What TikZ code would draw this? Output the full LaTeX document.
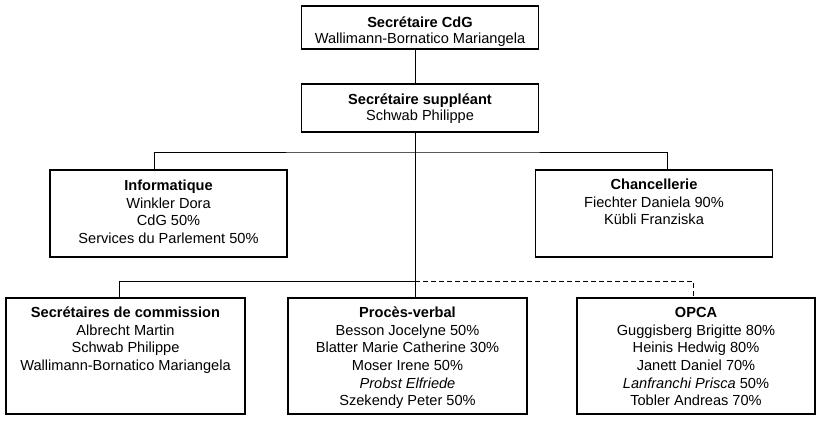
\documentclass[tikz,border=0pt]{standalone}
\usepackage{fontspec}
\setmainfont{Liberation Sans}
\usetikzlibrary{positioning}
\newcommand{\hd}[1]{\rule{0pt}{14pt}\textbf{#1}}

\begin{document}
\begin{tikzpicture}[x=1pt, y=-1pt,
		unit/.style={draw, line width=1.1pt, minimum width=237pt, inner sep=0pt},
		names/.style={anchor=north, align=center, inner sep=0pt, font=\fontsize{14.6}{17.6}\selectfont},
		link/.style={line width=1pt},
		dotlink/.style={line width=1pt, dash pattern=on 5pt off 3pt}]
		%%%%% START %%%%%
		\useasboundingbox (0,0) rectangle (819,421);
		
		\coordinate (bus1) at (415, 152);
		\coordinate (bus2) at (415, 281);
		
		% direction
		\node[unit, minimum height=43pt] (cdg) at (420, 27.5) {};
		\node[names, below=8pt of cdg.north] (cdgT) {\hd{Secrétaire CdG}\\[-1.6pt]Wallimann-Bornatico Mariangela};
		
		\node[unit, minimum height=48pt] (supp) at (420, 108) {};
		\node[names, below=7pt of supp.north] (suppT) {\hd{Secrétaire suppléant}\\[-1.6pt]Schwab Philippe};
		
		% services
		\node[unit, minimum height=87pt] (info) at (168.5, 213.5) {};
		\node[names, below=7pt of info.north] (infoT) {\hd{Informatique}\\Winkler Dora\\CdG 50\%\\Services du Parlement 50\%};
		
		\node[unit, minimum height=87pt] (chanc) at (654, 213.5) {};
		\node[names, below=6pt of chanc.north] (chancT) {\hd{Chancellerie}\\Fiechter Daniela 90\%\\Kübli Franziska};
		
		% sections
		\node[unit, minimum width=239pt, minimum height=116pt] (comm) at (125.5, 356) {};
		\node[names, below=6pt of comm.north] (commT) {\hd{Secrétaires de commission}\\Albrecht Martin\\Schwab Philippe\\Wallimann-Bornatico Mariangela};
		
		\node[unit, minimum width=239pt, minimum height=116pt] (pv) at (407.5, 356) {};
		\node[names, below=6pt of pv.north] (pvT) {\hd{Procès-verbal}\\Besson Jocelyne 50\%\\Blatter Marie Catherine 30\%\\Moser Irene 50\%\\\textit{Probst Elfriede}\\Szekendy Peter 50\%};
		
		\node[unit, minimum width=238pt, minimum height=116pt] (opca) at (696, 356) {};
		\node[names, below=6pt of opca.north] (opcaT) {\hd{OPCA}\\Guggisberg Brigitte 80\%\\Heinis Hedwig 80\%\\Janett Daniel 70\%\\\textit{Lanfranchi Prisca} 50\%\\Tobler Andreas 70\%};
		
		% links
		\draw[link] (cdg.south -| bus1) -- (supp.north -| bus1);
		\draw[link] (supp.south -| bus1) -- (pv.north -| bus1);
		\draw[link] ([xshift=-14.5pt]info.north) |- (bus1) -| ([xshift=13pt]chanc.north);
		\draw[link] ([xshift=-6.5pt]comm.north) |- (bus2);
		\draw[dotlink] (bus2) -| ([xshift=-3pt]opca.north);
		
		%%%%% END %%%%%
	\end{tikzpicture}
\end{document}
